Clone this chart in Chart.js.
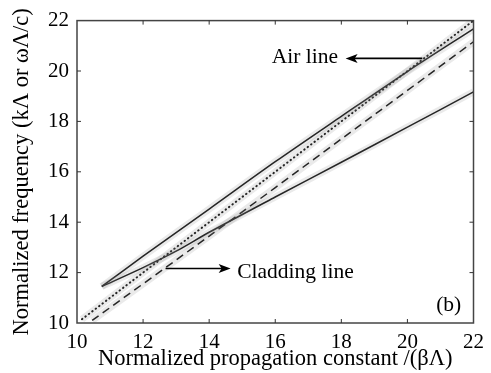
<!DOCTYPE html>
<html lang="en">
<head>
<meta charset="UTF-8">
<title>Normalized frequency vs propagation constant</title>
<script src="https://cdn.jsdelivr.net/npm/chart.js"></script>
<style>
  html, body { margin: 0; padding: 0; background: #fff; }
  #grafico { display: block; }
</style>
</head>
<body>
<canvas id="grafico" width="491" height="373"></canvas>
<script>
// valores (x = beta*Lambda, y = k*Lambda)
const xSuperior = [10.75, 12, 14, 16, 18, 20, 22];
const ySuperior = [11.45, 12.65, 14.52, 16.4, 18.2, 19.98, 21.67];

const xCladding = [10.75, 12, 13, 14, 16, 18, 20, 22];
const yCladding = [11.45, 12.2, 12.85, 13.6, 15.0, 16.38, 17.77, 19.17];

const xAr = [10.15, 22];
const yAr = [10.15, 22];

const xTracejada = [10.46, 14, 18, 22];
const yTracejada = [10.1, 13.45, 17.3, 21.16];

const ticksEixo = [10, 12, 14, 16, 18, 20, 22];

function pontos(xs, ys) {
    return xs.map((x, i) => ({ x: x, y: ys[i] }));
}

const fonte = "'Liberation Serif', 'Times New Roman', serif";

// anotacoes (setas e textos), em coordenadas de dados
const anotacoes = {
    ar: { texto: 'Air line', xTexto: 17.9, yTexto: 20.32, cauda: 20.45, ponta: 18.13, y: 20.5 },
    cladding: { texto: 'Cladding line', xTexto: 14.85, yTexto: 11.78, cauda: 12.68, ponta: 14.65, y: 12.16 },
    letra: { texto: '(b)', x: 20.87, y: 10.46 }
};

function seta(ctx, x1, x2, y) {
    const dir = Math.sign(x2 - x1);
    ctx.beginPath();
    ctx.moveTo(x1, y);
    ctx.lineTo(x2 - dir * 8, y);
    ctx.stroke();
    ctx.beginPath();
    ctx.moveTo(x2, y);
    ctx.lineTo(x2 - dir * 12, y - 4.5);
    ctx.lineTo(x2 - dir * 9, y);
    ctx.lineTo(x2 - dir * 12, y + 4.5);
    ctx.closePath();
    ctx.fill();
}

const pluginMoldura = {
    id: 'moldura',
    beforeDraw(chart) {
        const ctx = chart.ctx;
        ctx.save();
        ctx.fillStyle = '#fff';
        ctx.fillRect(0, 0, chart.width, chart.height);
        ctx.restore();
    },
    afterDraw(chart) {
        const ctx = chart.ctx;
        const a = chart.chartArea;
        const sx = chart.scales.x;
        const sy = chart.scales.y;
        ctx.save();

        // caixa
        ctx.strokeStyle = '#444';
        ctx.lineWidth = 1.5;
        ctx.strokeRect(a.left, a.top, a.right - a.left, a.bottom - a.top);

        // marcas para dentro nos quatro lados
        ctx.lineWidth = 1;
        ctx.strokeStyle = '#333';
        ticksEixo.slice(1, -1).forEach(v => {
            const px = sx.getPixelForValue(v);
            const py = sy.getPixelForValue(v);
            ctx.beginPath();
            ctx.moveTo(px, a.bottom); ctx.lineTo(px, a.bottom - 4);
            ctx.moveTo(px, a.top); ctx.lineTo(px, a.top + 4);
            ctx.moveTo(a.left, py); ctx.lineTo(a.left + 4, py);
            ctx.moveTo(a.right, py); ctx.lineTo(a.right - 4, py);
            ctx.stroke();
        });

        // textos e setas
        ctx.fillStyle = '#000';
        ctx.strokeStyle = '#000';
        ctx.lineWidth = 1.6;
        ctx.font = '21.5px ' + fonte;
        ctx.textBaseline = 'alphabetic';

        const ar = anotacoes.ar;
        ctx.textAlign = 'right';
        ctx.fillText(ar.texto, sx.getPixelForValue(ar.xTexto), sy.getPixelForValue(ar.yTexto));
        seta(ctx, sx.getPixelForValue(ar.cauda), sx.getPixelForValue(ar.ponta), sy.getPixelForValue(ar.y));

        const cl = anotacoes.cladding;
        ctx.textAlign = 'left';
        ctx.fillText(cl.texto, sx.getPixelForValue(cl.xTexto), sy.getPixelForValue(cl.yTexto));
        seta(ctx, sx.getPixelForValue(cl.cauda), sx.getPixelForValue(cl.ponta), sy.getPixelForValue(cl.y));

        const lt = anotacoes.letra;
        ctx.fillText(lt.texto, sx.getPixelForValue(lt.x), sy.getPixelForValue(lt.y));

        ctx.restore();
    }
};

// faixa cinza clara por baixo de cada curva (pontos calculados espalhados)
function faixa(dados) {
    return {
        data: dados,
        borderColor: 'rgba(140,140,140,0.18)',
        borderWidth: 7,
        pointRadius: 0,
        tension: 0.3
    };
}

const ctx = document.getElementById('grafico');
new Chart(ctx, {
    type: 'line',
    data: {
        datasets: [
            faixa(pontos(xSuperior, ySuperior)),
            faixa(pontos(xCladding, yCladding)),
            faixa(pontos(xAr, yAr)),
            faixa(pontos(xTracejada, yTracejada)),
            {
                label: 'Curva superior',
                data: pontos(xSuperior, ySuperior),
                borderColor: '#111',
                borderWidth: 1.5,
                pointRadius: 0,
                tension: 0.3
            },
            {
                label: 'Cladding',
                data: pontos(xCladding, yCladding),
                borderColor: '#111',
                borderWidth: 1.5,
                pointRadius: 0,
                tension: 0.3
            },
            {
                label: 'Air line',
                data: pontos(xAr, yAr),
                borderColor: '#111',
                borderWidth: 2,
                borderCapStyle: 'round',
                borderDash: [0.5, 3.8],
                pointRadius: 0
            },
            {
                label: 'Tracejada',
                data: pontos(xTracejada, yTracejada),
                borderColor: '#111',
                borderWidth: 1.5,
                borderDash: [8, 5],
                pointRadius: 0,
                tension: 0.3
            }
        ]
    },
    options: {
        responsive: false,
        animation: false,
        layout: { padding: { top: 13, right: 11, left: 0, bottom: 0 } },
        plugins: {
            legend: { display: false },
            tooltip: { enabled: false }
        },
        scales: {
            x: {
                type: 'linear',
                min: 10,
                max: 22,
                afterFit(scale) { scale.height = 50; },
                afterBuildTicks(scale) { scale.ticks = ticksEixo.map(v => ({ value: v })); },
                grid: { display: false, drawTicks: false },
                border: { display: false },
                ticks: {
                    color: '#000',
                    padding: 7,
                    maxRotation: 0,
                    font: { family: fonte, size: 21 }
                },
                title: {
                    display: true,
                    text: 'Normalized propagation constant /(βΛ)',
                    color: '#000',
                    padding: { top: 0, bottom: 0 },
                    font: { family: fonte, size: 22.5, lineHeight: 1.2 }
                }
            },
            y: {
                type: 'linear',
                min: 10,
                max: 22,
                afterFit(scale) { scale.width = 77; },
                afterBuildTicks(scale) { scale.ticks = ticksEixo.map(v => ({ value: v })); },
                grid: { display: false, drawTicks: false },
                border: { display: false },
                ticks: {
                    color: '#000',
                    padding: 8,
                    font: { family: fonte, size: 21 }
                },
                title: {
                    display: true,
                    text: 'Normalized frequency (kΛ or ωΛ/c)',
                    color: '#000',
                    padding: { top: 9, bottom: 0 },
                    font: { family: fonte, size: 22.5, lineHeight: 1.2 }
                }
            }
        }
    },
    plugins: [pluginMoldura]
});
</script>
</body>
</html>
